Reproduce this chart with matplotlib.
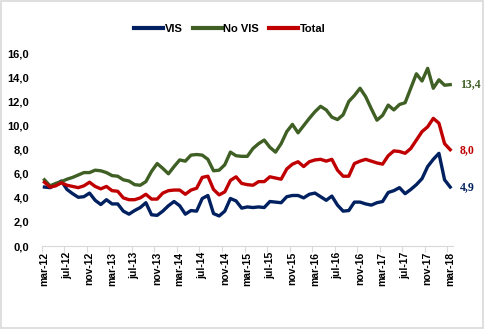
import matplotlib
matplotlib.use("Agg")
import matplotlib.pyplot as plt
from matplotlib.patches import Rectangle
from matplotlib.ticker import FixedLocator, FuncFormatter

# monthly categories mar-12 .. mar-18
MESES = ["ene", "feb", "mar", "abr", "may", "jun",
         "jul", "ago", "sep", "oct", "nov", "dic"]
labels = []
for k in range(73):
    m = (2 + k) % 12
    a = 12 + (2 + k) // 12
    labels.append("%s-%d" % (MESES[m], a))

vis = [4.9, 4.85, 5.1, 5.4, 4.7, 4.35, 4.05, 4.1, 4.4, 3.8,
       3.45, 3.85, 3.5, 3.5, 2.9, 2.65, 2.95, 3.2, 3.6, 2.6,
       2.55, 2.9, 3.35, 3.7, 3.35, 2.65, 2.95, 2.9, 3.95, 4.2,
       2.7, 2.5, 2.9, 3.95, 3.75, 3.15, 3.25, 3.2, 3.25, 3.2,
       3.7, 3.65, 3.6, 4.1, 4.2, 4.2, 4.0, 4.3, 4.4, 4.1,
       3.8, 4.15, 3.4, 2.9, 2.95, 3.65, 3.65, 3.5, 3.4, 3.6,
       3.7, 4.45, 4.6, 4.85, 4.35, 4.7, 5.1, 5.6, 6.6, 7.2,
       7.7, 5.5, 4.9]
no_vis = [5.5, 5.0, 5.2, 5.35, 5.55, 5.7, 5.9, 6.1, 6.1, 6.3,
          6.25, 6.1, 5.85, 5.8, 5.5, 5.4, 5.1, 5.05, 5.35, 6.2,
          6.85, 6.45, 6.0, 6.6, 7.15, 7.05, 7.55, 7.6, 7.55, 7.2,
          6.25, 6.3, 6.75, 7.8, 7.5, 7.45, 7.45, 8.1, 8.5, 8.8,
          8.2, 7.8, 8.5, 9.5, 10.1, 9.4, 10.0, 10.6, 11.15, 11.6,
          11.3, 10.7, 10.5, 10.9, 12.0, 12.5, 13.1, 12.4, 11.4, 10.45,
          10.85, 11.7, 11.3, 11.75, 11.9, 13.1, 14.3, 13.7, 14.75, 13.1,
          13.8, 13.35, 13.4]
total = [5.3, 4.9, 5.0, 5.25, 5.05, 4.95, 4.85, 5.0, 5.3, 4.95,
         4.75, 4.95, 4.6, 4.55, 4.0, 3.85, 3.85, 4.0, 4.3, 3.9,
         3.9, 4.4, 4.6, 4.65, 4.65, 4.3, 4.65, 4.8, 5.7, 5.8,
         4.7, 4.25, 4.5, 5.45, 5.75, 5.2, 5.1, 5.05, 5.35, 5.35,
         5.75, 5.65, 5.55, 6.4, 6.8, 7.0, 6.6, 7.0, 7.15, 7.2,
         7.05, 7.2, 6.3, 5.8, 5.8, 6.85, 7.05, 7.2, 7.05, 6.9,
         6.8, 7.5, 7.9, 7.85, 7.7, 8.1, 8.8, 9.5, 9.9, 10.6,
         10.2, 8.5, 8.0]

C_VIS = "#002060"
C_NOVIS = "#3F5F24"
C_TOTAL = "#C00000"

plt.rcParams['font.family'] = ['Liberation Sans', 'DejaVu Sans']

fig = plt.figure(figsize=(4.84, 3.29), dpi=100)
fig.patches.append(Rectangle((0.002, 0.003), 0.995, 0.993, transform=fig.transFigure,
                             fill=False, edgecolor="#D9D9D9", linewidth=1.2))
ax = fig.add_axes([0.086, 0.252, 0.85, 0.586])

x = list(range(len(vis)))
ax.plot(x, vis, color=C_VIS, lw=2.4, label="VIS", solid_joinstyle="round")
ax.plot(x, no_vis, color=C_NOVIS, lw=2.4, label="No VIS", solid_joinstyle="round")
ax.plot(x, total, color=C_TOTAL, lw=2.4, label="Total", solid_joinstyle="round")

ax.set_xlim(-0.5, 72.5)
ax.set_ylim(0, 16)
ax.set_yticks([0, 2, 4, 6, 8, 10, 12, 14, 16])
ax.yaxis.set_major_formatter(FuncFormatter(lambda v, p: ("%.1f" % v).replace(".", ",")))
ax.tick_params(axis="y", length=0, pad=9, labelsize=8)
for t in ax.get_yticklabels():
    t.set_fontweight("bold")

# labels every 4 months, tick marks between categories
ax.set_xticks(x[::4])
ax.set_xticklabels(labels[::4], rotation=90, fontsize=7.5, fontweight="bold")
ax.tick_params(axis="x", length=0, pad=4)
ax.xaxis.set_minor_locator(FixedLocator([i - 0.5 for i in range(0, 73, 4)]))
ax.tick_params(axis="x", which="minor", length=4, color="#D9D9D9", width=0.8)

for s in ["top", "right", "left"]:
    ax.spines[s].set_visible(False)
ax.spines["bottom"].set_color("#D9D9D9")
ax.spines["bottom"].set_linewidth(0.8)

# end labels
for serie, col in [(no_vis, C_NOVIS), (total, C_TOTAL), (vis, C_VIS)]:
    ax.annotate(("%.1f" % serie[-1]).replace(".", ","), xy=(72, serie[-1]),
                xytext=(7, 0), textcoords="offset points", va="center", ha="left",
                color=col, fontsize=8.5, fontweight="bold",
                family=["Liberation Serif", "DejaVu Serif"], annotation_clip=False)

leg = fig.legend(loc="center", bbox_to_anchor=(0.475, 0.912), ncol=3, frameon=False,
                 prop={"weight": "bold", "size": 8}, handlelength=2.6, handletextpad=0.15,
                 columnspacing=0.9)
for h in leg.get_lines():
    h.set_linewidth(3)

fig.savefig("out.png", dpi=100)
